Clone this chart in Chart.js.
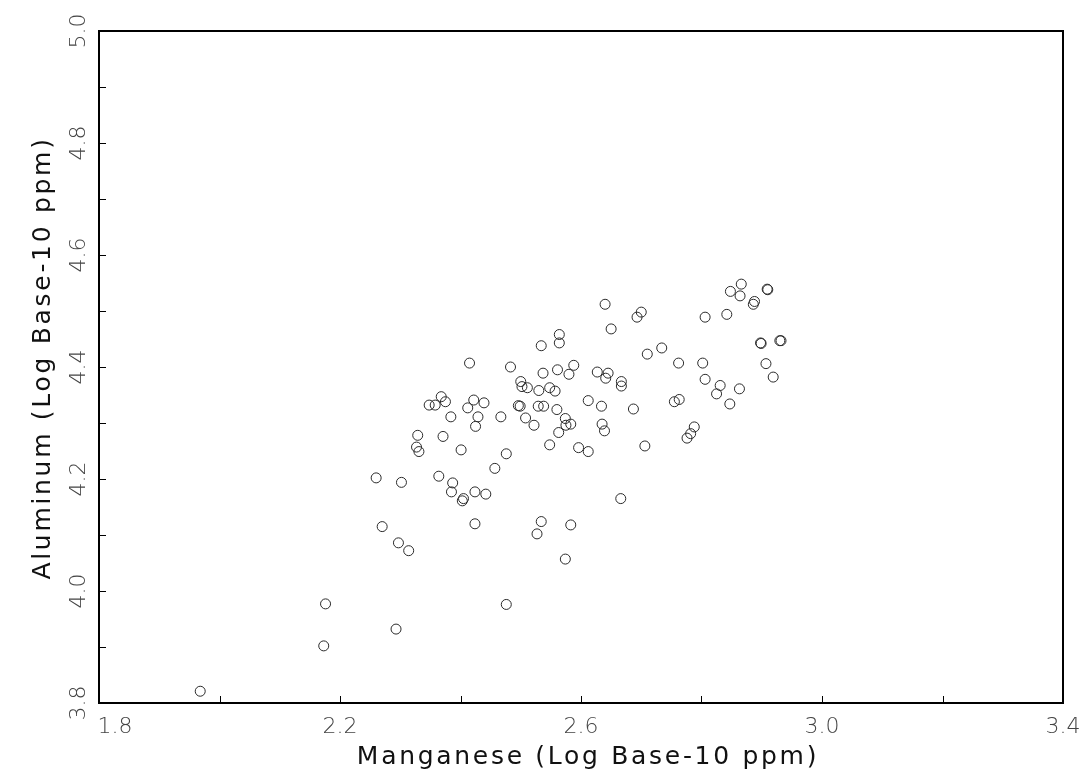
<!DOCTYPE html>
<html>
<head>
<meta charset="utf-8">
<script src="https://cdn.jsdelivr.net/npm/chart.js@4/dist/chart.umd.min.js"></script>
<style>
  body { margin: 0; background: #fff; }
  #wrap { width: 1082px; height: 772px; }
</style>
</head>
<body>
<div id="wrap"><canvas id="chart" width="1082" height="772"></canvas></div>
<script>
// manganese (x) and aluminum (y), log base-10 ppm
var manganese = [
  1.968, 2.176, 2.173, 2.293, 2.476,
  2.564, 2.564, 2.534, 2.415, 2.483, 2.537, 2.561, 2.588, 2.580, 2.500,
  2.502, 2.511, 2.530, 2.548, 2.557, 2.368, 2.348, 2.358, 2.375, 2.422,
  2.439, 2.412, 2.496, 2.499, 2.529, 2.538, 2.560, 2.384, 2.429, 2.467,
  2.508, 2.574, 2.425, 2.522, 2.575, 2.583, 2.563, 2.548, 2.596, 2.329,
  2.371, 2.327, 2.331, 2.401, 2.476, 2.457, 2.260, 2.302, 2.364, 2.387,
  2.385, 2.424, 2.442, 2.405, 2.403, 2.270, 2.424, 2.297, 2.314, 2.534,
  2.527, 2.583, 2.574,
  2.640, 2.650, 2.700, 2.693, 2.710, 2.734, 2.762, 2.802, 2.806, 2.842,
  2.848, 2.866, 2.864, 2.888, 2.886, 2.909, 2.910, 2.898, 2.899, 2.930,
  2.932, 2.907, 2.919, 2.627, 2.645, 2.641, 2.667, 2.667, 2.612, 2.634,
  2.687, 2.755, 2.763, 2.806, 2.831, 2.825, 2.863, 2.847,
  2.635, 2.639, 2.612, 2.706, 2.788, 2.782, 2.776, 2.666
];
var aluminum = [
  3.821, 3.977, 3.902, 3.932, 3.976,
  4.458, 4.443, 4.438, 4.407, 4.400, 4.389, 4.395, 4.403, 4.387, 4.374,
  4.365, 4.363, 4.358, 4.363, 4.357, 4.347, 4.332, 4.332, 4.338, 4.341,
  4.336, 4.327, 4.331, 4.330, 4.330, 4.330, 4.324, 4.311, 4.311, 4.311,
  4.309, 4.308, 4.294, 4.296, 4.296, 4.298, 4.283, 4.261, 4.256, 4.278,
  4.276, 4.257, 4.249, 4.252, 4.245, 4.219, 4.202, 4.194, 4.205, 4.193,
  4.177, 4.177, 4.173, 4.165, 4.161, 4.115, 4.120, 4.086, 4.072, 4.124,
  4.102, 4.118, 4.057,
  4.512, 4.468, 4.498, 4.489, 4.423, 4.434, 4.407, 4.407, 4.489, 4.494,
  4.535, 4.548, 4.527, 4.517, 4.512, 4.539, 4.538, 4.443, 4.442, 4.447,
  4.447, 4.406, 4.382, 4.391, 4.389, 4.380, 4.374, 4.366, 4.340, 4.330,
  4.325, 4.338, 4.342, 4.378, 4.367, 4.352, 4.361, 4.334,
  4.298, 4.286, 4.249, 4.259, 4.293, 4.281, 4.273, 4.165
];

var xTickLabels = [1.8, 2.2, 2.6, 3.0, 3.4];
var yTickLabels = [3.8, 4.0, 4.2, 4.4, 4.6, 4.8, 5.0];
var xTitle = 'Manganese (Log Base-10 ppm)';
var yTitle = 'Aluminum (Log Base-10 ppm)';

var points = manganese.map(function(m, i) { return {x: m, y: aluminum[i]}; });

// frame, inward ticks, labels and titles
var framePlugin = {
  id: 'frame',
  afterDraw: function(chart) {
    var ctx = chart.ctx, a = chart.chartArea;
    var xs = chart.scales.x, ys = chart.scales.y;
    ctx.save();
    ctx.strokeStyle = '#000';
    ctx.lineWidth = 2;
    ctx.strokeRect(a.left, a.top, a.right - a.left, a.bottom - a.top);

    ctx.lineWidth = 1;
    ctx.beginPath();
    for (var i = 0; i <= 8; i++) {
      var px = Math.round(xs.getPixelForValue(1.8 + i * 0.2)) + 0.5;
      ctx.moveTo(px, a.bottom); ctx.lineTo(px, a.bottom - 7);
    }
    for (var j = 0; j <= 12; j++) {
      var py = Math.round(ys.getPixelForValue(3.8 + j * 0.1)) + 0.5;
      ctx.moveTo(a.left, py); ctx.lineTo(a.left + 7, py);
    }
    ctx.stroke();

    ctx.fillStyle = '#444';
    ctx.font = '200 22px "DejaVu Sans"';
    ctx.textAlign = 'center';
    ctx.textBaseline = 'middle';
    xTickLabels.forEach(function(v, k) {
      var px = xs.getPixelForValue(v) + (k === 0 ? 16 : 0);
      ctx.fillText(v.toFixed(1), px, 727);
    });
    yTickLabels.forEach(function(v) {
      ctx.save();
      ctx.translate(79, ys.getPixelForValue(v));
      ctx.rotate(-Math.PI / 2);
      ctx.fillText(v.toFixed(1), 0, 0);
      ctx.restore();
    });

    ctx.fillStyle = '#111';
    ctx.font = '25px "DejaVu Sans"';
    ctx.letterSpacing = '2.7px';
    ctx.fillText(xTitle, 588, 757);
    ctx.save();
    ctx.translate(43, 358);
    ctx.rotate(-Math.PI / 2);
    ctx.fillText(yTitle, 0, 0);
    ctx.restore();
    ctx.restore();
  }
};

new Chart(document.getElementById('chart'), {
  type: 'scatter',
  data: {
    datasets: [{
      data: points,
      pointStyle: 'circle',
      pointRadius: 5,
      pointBorderWidth: 1,
      borderColor: '#2a2a2a',
      backgroundColor: 'rgba(0,0,0,0)',
      clip: false
    }]
  },
  options: {
    responsive: false,
    animation: false,
    layout: { padding: { left: 99, top: 31, right: 19, bottom: 69 } },
    plugins: { legend: { display: false }, tooltip: { enabled: false } },
    scales: {
      x: { type: 'linear', min: 1.8, max: 3.4, display: false },
      y: { type: 'linear', min: 3.8, max: 5.0, display: false }
    }
  },
  plugins: [framePlugin]
});
</script>
</body>
</html>
